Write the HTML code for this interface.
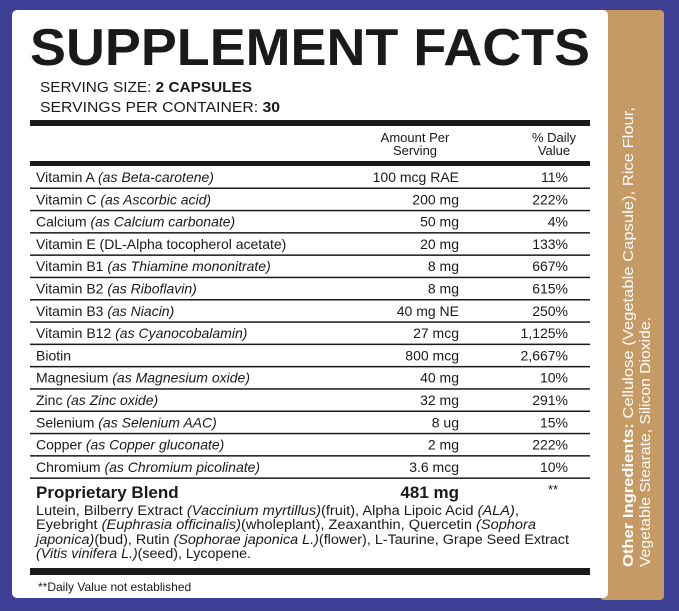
<!DOCTYPE html>
<html><head><meta charset="utf-8"><style>
html,body{margin:0;padding:0;background:#3d3f94;}
svg{display:block;}
text{font-family:"Liberation Sans",sans-serif;fill:#1a1a1a;}
</style></head><body>
<svg width="679" height="611" viewBox="0 0 679 611">
<rect x="0" y="0" width="679" height="611" fill="#3d3f94"/>
<rect x="600" y="10" width="64" height="590" rx="4" fill="#c69a64"/>
<rect x="12" y="10" width="596" height="588" rx="5" fill="#ffffff"/>
<text x="30" y="65" font-size="52" font-weight="bold" textLength="560" lengthAdjust="spacingAndGlyphs">SUPPLEMENT FACTS</text>
<text x="40" y="92" font-size="15" textLength="212" lengthAdjust="spacingAndGlyphs">SERVING SIZE: <tspan font-weight="bold">2 CAPSULES</tspan></text>
<text x="40" y="112" font-size="15" textLength="240" lengthAdjust="spacingAndGlyphs">SERVINGS PER CONTAINER: <tspan font-weight="bold">30</tspan></text>
<rect x="30" y="120" width="560" height="6" fill="#1a1a1a"/>
<g font-size="13" text-anchor="middle">
<text x="415" y="142">Amount Per</text><text x="415" y="155">Serving</text>
<text x="554" y="142">% Daily</text><text x="554" y="155">Value</text>
</g>
<rect x="30" y="161" width="560" height="5" fill="#1a1a1a"/>
<g font-size="14">
<text x="36" y="182">Vitamin A <tspan font-style="italic">(as Beta-carotene)</tspan></text>
<text x="36" y="204.3">Vitamin C <tspan font-style="italic">(as Ascorbic acid)</tspan></text>
<text x="36" y="226.6">Calcium <tspan font-style="italic">(as Calcium carbonate)</tspan></text>
<text x="36" y="248.9">Vitamin E (DL-Alpha tocopherol acetate)</text>
<text x="36" y="271.2">Vitamin B1 <tspan font-style="italic">(as Thiamine mononitrate)</tspan></text>
<text x="36" y="293.5">Vitamin B2 <tspan font-style="italic">(as Riboflavin)</tspan></text>
<text x="36" y="315.8">Vitamin B3 <tspan font-style="italic">(as Niacin)</tspan></text>
<text x="36" y="338.1">Vitamin B12 <tspan font-style="italic">(as Cyanocobalamin)</tspan></text>
<text x="36" y="360.4">Biotin</text>
<text x="36" y="382.7">Magnesium <tspan font-style="italic">(as Magnesium oxide)</tspan></text>
<text x="36" y="405">Zinc <tspan font-style="italic">(as Zinc oxide)</tspan></text>
<text x="36" y="427.3">Selenium <tspan font-style="italic">(as Selenium AAC)</tspan></text>
<text x="36" y="449.6">Copper <tspan font-style="italic">(as Copper gluconate)</tspan></text>
<text x="36" y="471.9">Chromium <tspan font-style="italic">(as Chromium picolinate)</tspan></text>
<g text-anchor="end">
<text x="459" y="182">100 mcg RAE</text>
<text x="459" y="204.3">200 mg</text>
<text x="459" y="226.6">50 mg</text>
<text x="459" y="248.9">20 mg</text>
<text x="459" y="271.2">8 mg</text>
<text x="459" y="293.5">8 mg</text>
<text x="459" y="315.8">40 mg NE</text>
<text x="459" y="338.1">27 mcg</text>
<text x="459" y="360.4">800 mcg</text>
<text x="459" y="382.7">40 mg</text>
<text x="459" y="405">32 mg</text>
<text x="459" y="427.3">8 ug</text>
<text x="459" y="449.6">2 mg</text>
<text x="459" y="471.9">3.6 mcg</text>
<text x="568" y="182">11%</text>
<text x="568" y="204.3">222%</text>
<text x="568" y="226.6">4%</text>
<text x="568" y="248.9">133%</text>
<text x="568" y="271.2">667%</text>
<text x="568" y="293.5">615%</text>
<text x="568" y="315.8">250%</text>
<text x="568" y="338.1">1,125%</text>
<text x="568" y="360.4">2,667%</text>
<text x="568" y="382.7">10%</text>
<text x="568" y="405">291%</text>
<text x="568" y="427.3">15%</text>
<text x="568" y="449.6">222%</text>
<text x="568" y="471.9">10%</text>
</g>
</g>
<g fill="#1a1a1a">
<rect x="30" y="187.5" width="560" height="1.5"/>
<rect x="30" y="209.8" width="560" height="1.5"/>
<rect x="30" y="232.1" width="560" height="1.5"/>
<rect x="30" y="254.4" width="560" height="1.5"/>
<rect x="30" y="276.7" width="560" height="1.5"/>
<rect x="30" y="299" width="560" height="1.5"/>
<rect x="30" y="321.3" width="560" height="1.5"/>
<rect x="30" y="343.6" width="560" height="1.5"/>
<rect x="30" y="365.9" width="560" height="1.5"/>
<rect x="30" y="388.2" width="560" height="1.5"/>
<rect x="30" y="410.5" width="560" height="1.5"/>
<rect x="30" y="432.8" width="560" height="1.5"/>
<rect x="30" y="455.1" width="560" height="1.5"/>
<rect x="30" y="477.4" width="560" height="1.5"/>
</g>
<text x="36" y="498" font-size="17" font-weight="bold">Proprietary Blend</text>
<text x="459" y="498" font-size="17" font-weight="bold" text-anchor="end">481 mg</text>
<text x="548" y="494" font-size="13">**</text>
<g font-size="13.5">
<text x="36" y="515" textLength="483" lengthAdjust="spacingAndGlyphs">Lutein, Bilberry Extract <tspan font-style="italic">(Vaccinium myrtillus)</tspan>(fruit), Alpha Lipoic Acid <tspan font-style="italic">(ALA)</tspan>,</text>
<text x="36" y="529" textLength="500" lengthAdjust="spacingAndGlyphs">Eyebright <tspan font-style="italic">(Euphrasia officinalis)</tspan>(wholeplant), Zeaxanthin, Quercetin <tspan font-style="italic">(Sophora</tspan></text>
<text x="36" y="544" textLength="533" lengthAdjust="spacingAndGlyphs"><tspan font-style="italic">japonica)</tspan>(bud), Rutin <tspan font-style="italic">(Sophorae japonica L.)</tspan>(flower), L-Taurine, Grape Seed Extract</text>
<text x="36" y="558" textLength="215" lengthAdjust="spacingAndGlyphs"><tspan font-style="italic">(Vitis vinifera L.)</tspan>(seed), Lycopene.</text>
</g>
<rect x="30" y="568" width="560" height="7" fill="#1a1a1a"/>
<text x="38" y="591" font-size="12">**Daily Value not established</text>
<g font-size="15">
<text transform="translate(633,567) rotate(-90)" style="fill:#fff" textLength="460" lengthAdjust="spacingAndGlyphs"><tspan font-weight="bold">Other Ingredients:</tspan> Cellulose (Vegetable Capsule),  Rice Flour,</text>
<text transform="translate(650,567) rotate(-90)" style="fill:#fff" textLength="250" lengthAdjust="spacingAndGlyphs">Vegetable Stearate, Silicon Dioxide.</text>
</g>
</svg>
</body></html>
